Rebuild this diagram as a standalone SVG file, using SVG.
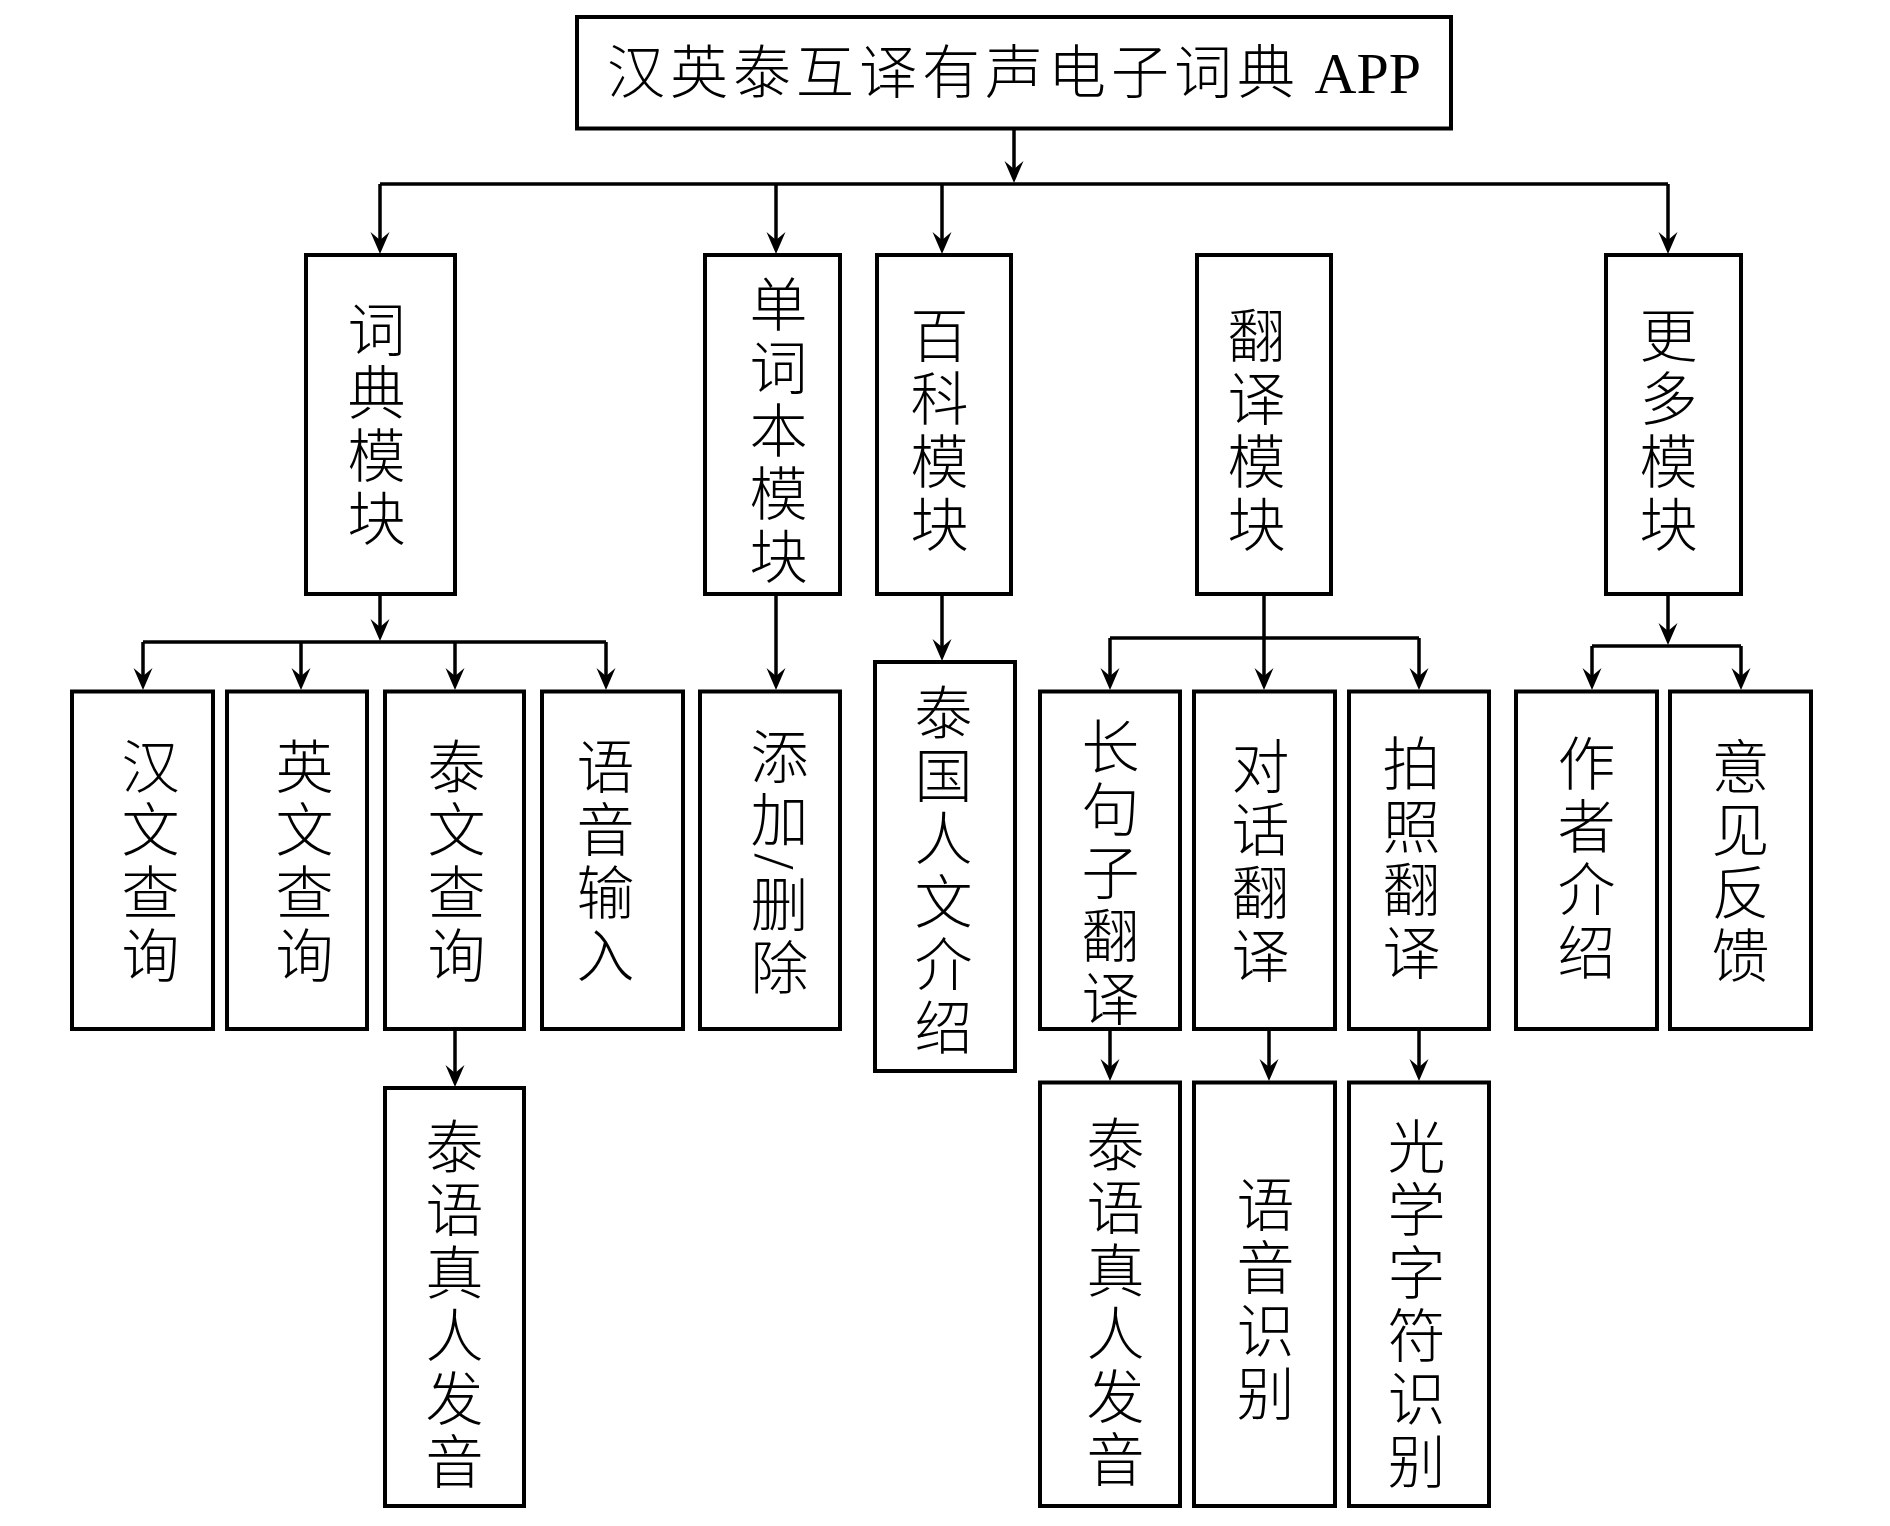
<svg xmlns="http://www.w3.org/2000/svg" width="1890" height="1526" viewBox="0 0 1890 1526">
<defs>
<style>
.box{fill:#fff;stroke:#000;stroke-width:4}
.lbl{font-family:"Liberation Serif","Noto Sans CJK SC",serif;font-size:58px;fill:#000;font-weight:300}
.v{writing-mode:vertical-rl;text-anchor:middle;letter-spacing:5px}
.c{fill:none;stroke:#000;stroke-width:3.5}
.a{marker-end:url(#ah)}
</style>
<marker id="ah" markerUnits="userSpaceOnUse" viewBox="-23 -11 24 22" refX="-10" refY="0" markerWidth="24" markerHeight="22" orient="auto">
<path d="M0,0 L-22,-9.5 L-14,0 L-22,9.5 Z" fill="#000"/>
</marker>
</defs>
<rect width="1890" height="1526" fill="#fff"/>

<g id="connectors">
<path class="c a" d="M1014,128 V173"/>
<path class="c" d="M380,184 H1668"/>
<path class="c a" d="M380,184 V244"/>
<path class="c a" d="M776,184 V244"/>
<path class="c a" d="M942,184 V244"/>
<path class="c a" d="M1668,184 V244"/>
<path class="c a" d="M380,594 V631"/>
<path class="c" d="M143,642 H606"/>
<path class="c a" d="M143,642 V680"/>
<path class="c a" d="M301,642 V680"/>
<path class="c a" d="M455,642 V680"/>
<path class="c a" d="M606,642 V680"/>
<path class="c a" d="M776,594 V680"/>
<path class="c a" d="M942,594 V651"/>
<path class="c a" d="M1264,594 V680"/>
<path class="c" d="M1110,638 H1419"/>
<path class="c a" d="M1110,638 V680"/>
<path class="c a" d="M1419,638 V680"/>
<path class="c a" d="M1668,594 V635"/>
<path class="c" d="M1592,646 H1741"/>
<path class="c a" d="M1592,646 V680"/>
<path class="c a" d="M1741,646 V680"/>
<path class="c a" d="M455,1029 V1077"/>
<path class="c a" d="M1110,1029 V1071"/>
<path class="c a" d="M1269,1029 V1071"/>
<path class="c a" d="M1419,1029 V1071"/>
</g>

<g id="n-root"><rect class="box" x="577" y="17" width="874" height="111.5"/>
<text class="lbl" x="607" y="93"><tspan letter-spacing="5">汉英泰互译有声电子词典</tspan> APP</text></g>

<g id="n-dict"><rect class="box" x="306" y="255" width="149" height="339"/><text class="lbl v" x="371" y="425.5">词典模块</text></g>
<g id="n-wordbook"><rect class="box" x="705" y="255" width="135" height="339"/><text class="lbl v" x="773" y="432.5">单词本模块</text></g>
<g id="n-wiki"><rect class="box" x="877" y="255" width="134" height="339"/><text class="lbl v" x="934" y="431.5">百科模块</text></g>
<g id="n-trans"><rect class="box" x="1197" y="255" width="134" height="339"/><text class="lbl v" x="1251" y="431.5">翻译模块</text></g>
<g id="n-more"><rect class="box" x="1606" y="255" width="135" height="339"/><text class="lbl v" x="1663" y="431.5">更多模块</text></g>

<g id="n-zh"><rect class="box" x="72" y="691.5" width="141" height="337.5"/><text class="lbl v" x="145" y="862.5">汉文查询</text></g>
<g id="n-en"><rect class="box" x="227" y="691.5" width="140" height="337.5"/><text class="lbl v" x="299" y="862.5">英文查询</text></g>
<g id="n-th"><rect class="box" x="385" y="691.5" width="139" height="337.5"/><text class="lbl v" x="451" y="862.5">泰文查询</text></g>
<g id="n-voice"><rect class="box" x="542" y="691.5" width="141" height="337.5"/><text class="lbl v" x="600" y="862.5">语音输入</text></g>
<g id="n-adddel"><rect class="box" x="700" y="691.5" width="140" height="337.5"/><text class="lbl v" x="774" y="864">添加/删除</text></g>
<g id="n-culture"><rect class="box" x="875" y="662" width="140" height="409"/><text class="lbl v" x="938" y="871.5">泰国人文介绍</text></g>
<g id="n-long"><rect class="box" x="1040" y="691.5" width="140" height="337.5"/><text class="lbl v" x="1105" y="874">长句子翻译</text></g>
<g id="n-dialog"><rect class="box" x="1194" y="691.5" width="141" height="337.5"/><text class="lbl v" x="1255" y="862.5">对话翻译</text></g>
<g id="n-photo"><rect class="box" x="1349" y="691.5" width="140" height="337.5"/><text class="lbl v" x="1406" y="860">拍照翻译</text></g>
<g id="n-author"><rect class="box" x="1516" y="691.5" width="141" height="337.5"/><text class="lbl v" x="1581" y="860">作者介绍</text></g>
<g id="n-feedback"><rect class="box" x="1670" y="691.5" width="141" height="337.5"/><text class="lbl v" x="1735" y="862.5">意见反馈</text></g>

<g id="n-th-voice1"><rect class="box" x="385" y="1088" width="139" height="418"/><text class="lbl v" x="449" y="1305.5">泰语真人发音</text></g>
<g id="n-th-voice2"><rect class="box" x="1040" y="1082.5" width="140" height="423.5"/><text class="lbl v" x="1110" y="1304">泰语真人发音</text></g>
<g id="n-asr"><rect class="box" x="1194" y="1082.5" width="141" height="423.5"/><text class="lbl v" x="1260" y="1301">语音识别</text></g>
<g id="n-ocr"><rect class="box" x="1349" y="1082.5" width="140" height="423.5"/><text class="lbl v" x="1411" y="1305.5">光学字符识别</text></g>
</svg>
